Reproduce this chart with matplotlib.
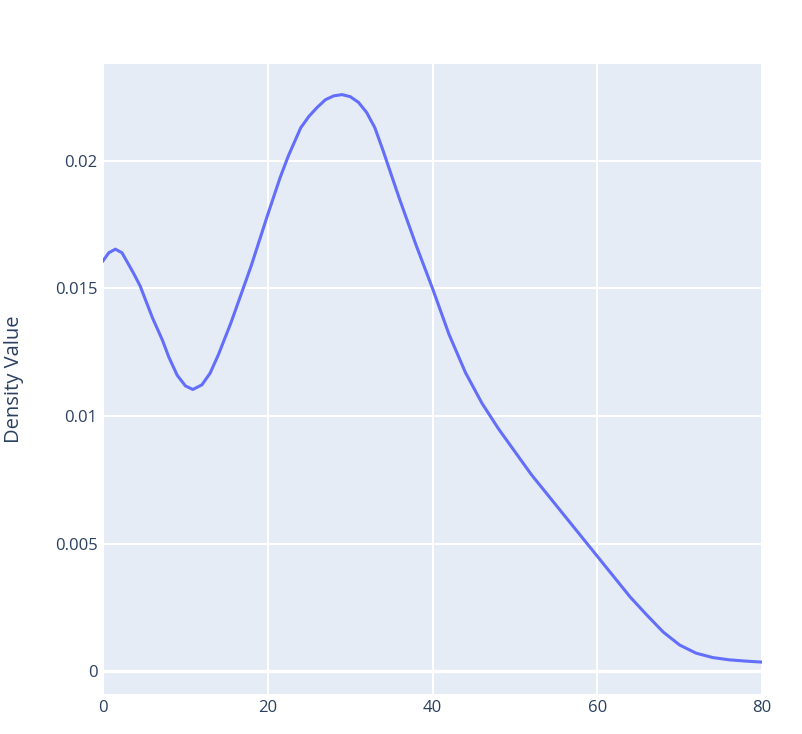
import numpy as np
import matplotlib.pyplot as plt

x_vals = [0, 0.7, 1.5, 2.3, 3, 3.7, 4.5, 6, 7.2, 8, 9, 10, 10.9, 12, 13, 14, 15.5, 17,
          18, 19, 20, 21.5, 22.5, 24, 25, 26, 27, 28, 29, 30, 31, 32, 33, 34, 36, 38, 40,
          42, 44, 46, 48, 50, 52, 54, 56, 58, 60, 62, 64, 66, 68, 70, 72, 74, 76, 78, 80]
density = [0.01608, 0.0164, 0.01654, 0.0164, 0.0160, 0.0156, 0.0151, 0.01385, 0.01298,
           0.0123, 0.0116, 0.01118, 0.01104, 0.01122, 0.01168, 0.0124, 0.01363, 0.01499,
           0.0159, 0.0169, 0.0179, 0.01935, 0.0202, 0.0213, 0.02175, 0.0221, 0.0224,
           0.02255, 0.0226, 0.02252, 0.0223, 0.0219, 0.0213, 0.0204, 0.0185, 0.0167, 0.0150,
           0.0132, 0.0117, 0.0105, 0.0095, 0.0086, 0.0077, 0.0069, 0.0061, 0.0053, 0.0045,
           0.0037, 0.0029, 0.0022, 0.00153, 0.00102, 0.0007, 0.00053, 0.00044, 0.00039,
           0.00035]
x_ticks = [0, 20, 40, 60, 80]
y_ticks = [0, 0.005, 0.01, 0.015, 0.02]
y_tick_labels = ['0', '0.005', '0.01', '0.015', '0.02']

plt.rcParams['font.family'] = ['Open Sans', 'DejaVu Sans']
text_color = '#2a3f5f'

fig = plt.figure(figsize=(8.03, 7.34), dpi=100)
ax = fig.add_axes([0.1283, 0.0545, 0.8207, 0.8583])
ax.set_facecolor('#e5ecf6')

ax.plot(x_vals, density, color='#636efa', linewidth=2.2, zorder=3,
        solid_joinstyle='round')

ax.set_xlim(0, 80)
ax.set_ylim(-0.0009, 0.0238)
ax.set_xticks(x_ticks)
ax.set_yticks(y_ticks)
ax.set_yticklabels(y_tick_labels)
ax.grid(True, color='white', linewidth=1.5)
ax.axhline(0, color='white', linewidth=2.4, zorder=2)
ax.set_axisbelow(True)
for s in ax.spines.values():
    s.set_visible(False)
ax.tick_params(length=0, labelsize=12, colors=text_color, pad=4)
ax.set_ylabel('Density Value', fontsize=14.5, color=text_color, labelpad=22)

fig.savefig('out.png', dpi=100)
